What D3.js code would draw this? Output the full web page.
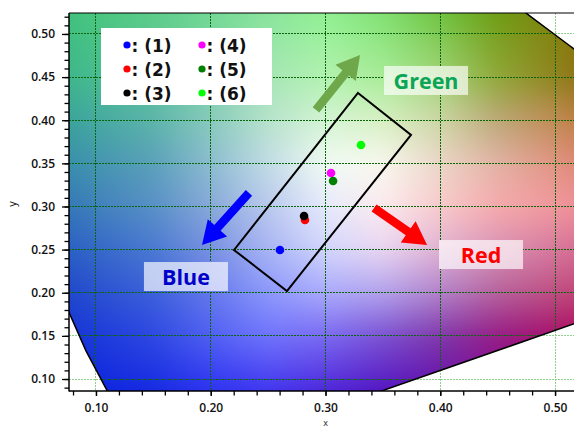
<!DOCTYPE html>
<html>
<head>
<meta charset="utf-8">
<script src="https://cdn.jsdelivr.net/npm/d3@7"></script>
<style>
  html, body { margin: 0; padding: 0; background: #fff; }
  svg { display: block; }
</style>
</head>
<body>
<div id="chart"></div>
<script>
// ---- CIE 1931 2° spectral locus, 380–700 nm ----
const locusX = [0.1741,0.1740,0.1738,0.1736,0.1733,0.1730,0.1726,0.1721,0.1714,0.1703,0.1689,0.1669,0.1644,0.1611,0.1566,0.1510,0.1440,0.1355,0.1241,0.1096,0.0913,0.0687,0.0454,0.0235,0.0082,0.0039,0.0139,0.0389,0.0743,0.1142,0.1547,0.1929,0.2296,0.2658,0.3016,0.3373,0.3731,0.4087,0.4441,0.4788,0.5125,0.5448,0.5752,0.6029,0.6270,0.6482,0.6658,0.6915,0.7079,0.7190,0.7260,0.7347];
const locusY = [0.0050,0.0050,0.0049,0.0049,0.0048,0.0048,0.0048,0.0048,0.0051,0.0058,0.0069,0.0086,0.0109,0.0138,0.0177,0.0227,0.0297,0.0399,0.0578,0.0868,0.1327,0.2007,0.2950,0.4127,0.5384,0.6548,0.7502,0.8120,0.8338,0.8262,0.8059,0.7816,0.7543,0.7243,0.6923,0.6589,0.6245,0.5896,0.5547,0.5202,0.4866,0.4544,0.4242,0.3965,0.3725,0.3514,0.3340,0.3083,0.2920,0.2809,0.2740,0.2653];

// ---- measured chromaticity points ----
const sampleNames  = ["(1)", "(2)", "(3)", "(4)", "(5)", "(6)"];
const sampleX      = [0.2603, 0.2821, 0.2813, 0.3048, 0.3066, 0.3309];
const sampleY      = [0.2496, 0.2843, 0.2890, 0.3388, 0.3296, 0.3713];
const sampleColors = ["#0000ff", "#ff0000", "#000000", "#ff00ff", "#008000", "#00ff00"];

// ---- tolerance quadrilateral (corners) ----
const boxX = [0.3283, 0.3745, 0.2664, 0.2203];
const boxY = [0.4316, 0.3829, 0.2020, 0.2496];

// ---- direction hints: arrow from (fromX, fromY) to (toX, toY), label at (labelX, labelY) ----
const dirNames   = ["Green", "Blue", "Red"];
const dirFromX   = [0.2917, 0.2333, 0.3423];
const dirFromY   = [0.4119, 0.3157, 0.2983];
const dirToX     = [0.3301, 0.1924, 0.3885];
const dirToY     = [0.4757, 0.2554, 0.2554];
const dirLabelX  = [0.3876, 0.1784, 0.4355];
const dirLabelY  = [0.4461, 0.2188, 0.2443];
const dirArrow   = ["#6fa84a", "#0000ff", "#ff0000"];
const dirText    = ["#0aa655", "#0000c8", "#ff0000"];

// ---- axis ticks ----
const xTicks = [0.10, 0.20, 0.30, 0.40, 0.50];
const yTicks = [0.10, 0.15, 0.20, 0.25, 0.30, 0.35, 0.40, 0.45, 0.50];
const xMinor = d3.range(8, 53, 2).map(v => v / 100);
const yMinor = d3.range(9, 53, 1).map(v => v / 100);

// ---- colour field of the diagram, sampled on a coarse (x, y) lattice ----
const bgX = [0.07, 0.15, 0.20, 0.25, 0.30, 0.35, 0.40, 0.45, 0.53];
const bgY = [0.53, 0.45, 0.40, 0.35, 0.30, 0.25, 0.20, 0.15, 0.08];
const bgRow053 = ["#3ec27a","#5ccd88","#72d893","#88e49a","#8ff090","#7ee070","#6cc23c","#6c9c12","#8a7004"];
const bgRow045 = ["#3cb68a","#5cc49a","#7ed4aa","#a6e6b6","#b2f2b0","#a8ec98","#a0d478","#90a838","#8e6e10"];
const bgRow040 = ["#38a29a","#5cb4aa","#88cabc","#b8e2cc","#d4f4d4","#d8f0c4","#ccd6a4","#bca878","#c27a40"];
const bgRow035 = ["#368eaa","#5aa0ba","#8cbcd0","#c2dce6","#f2fbf4","#f8f8ee","#ecd6c8","#e2b2a4","#e08270"];
const bgRow030 = ["#3276b6","#5890c6","#88a8da","#bac8ee","#e6eafc","#fceaee","#f8cacc","#f6aaac","#ee8e96"];
const bgRow025 = ["#285ec2","#4a78d2","#7890e2","#a8b4f4","#d2d6fc","#ead6f2","#e0b2d2","#d892b4","#d66890"];
const bgRow020 = ["#1e46ca","#3c60da","#6478ec","#8c98fc","#aaaafc","#b2a2ec","#b282ca","#b6629c","#c24272"];
const bgRow015 = ["#1232d6","#2e48e2","#5060f2","#7074fc","#7a6af2","#7c52d2","#8038aa","#961c86","#b0085a"];
const bgRow008 = ["#0a20dc","#1428e2","#2a2ef0","#3c30ee","#4a20d8","#5010c0","#6008a8","#800890","#a00070"];
const bgRows = [bgRow053, bgRow045, bgRow040, bgRow035, bgRow030, bgRow025, bgRow020, bgRow015, bgRow008];

// ---- layout ----
const width = 574, height = 427;
const plot = { left: 69, top: 13, right: 578, bottom: 391 };

const x = d3.scaleLinear().domain([0.0765, 0.5200]).range([plot.left, plot.right]);
const y = d3.scaleLinear().domain([0.0861, 0.5243]).range([plot.bottom, plot.top]);

const svg = d3.select("#chart").append("svg")
  .attr("width", width).attr("height", height)
  .attr("viewBox", `0 0 ${width} ${height}`);

const defs = svg.append("defs");
defs.append("clipPath").attr("id", "plotClip")
  .append("rect")
  .attr("x", plot.left).attr("y", plot.top)
  .attr("width", plot.right - plot.left).attr("height", plot.bottom - plot.top);

const locusPts = locusX.map((v, i) => [v, locusY[i]]);
const locusLine = d3.line().x(d => x(d[0])).y(d => y(d[1])).curve(d3.curveLinearClosed);
defs.append("clipPath").attr("id", "gamutClip")
  .append("path").attr("d", locusLine(locusPts));

// ---- paint the colour field on a canvas ----
const bgParsed = bgRows.map(r => r.map(c => d3.rgb(c)));
function locate(arr, v) {
  for (let i = 0; i < arr.length - 1; i++) {
    const t = (v - arr[i]) / (arr[i + 1] - arr[i]);
    if (t >= 0 && t <= 1) return [i, t];
  }
  const asc = arr[1] > arr[0];
  if (asc ? v < arr[0] : v > arr[0]) return [0, 0];
  return [arr.length - 2, 1];
}
const pad = 28;
const cw = Math.round(plot.right - plot.left) + 2 * pad;
const chh = Math.round(plot.bottom - plot.top) + 2 * pad;
const raw = document.createElement("canvas");
raw.width = cw; raw.height = chh;
const rctx = raw.getContext("2d");
const img = rctx.createImageData(cw, chh);
for (let j = 0; j < chh; j++) {
  const dy = y.invert(plot.top - pad + j + 0.5);
  const [iy, ty] = locate(bgY, dy);
  for (let i = 0; i < cw; i++) {
    const dx = x.invert(plot.left - pad + i + 0.5);
    const [ix, tx] = locate(bgX, dx);
    const c00 = bgParsed[iy][ix], c01 = bgParsed[iy][ix + 1];
    const c10 = bgParsed[iy + 1][ix], c11 = bgParsed[iy + 1][ix + 1];
    const k = (j * cw + i) * 4;
    for (const [ch, o] of [["r", 0], ["g", 1], ["b", 2]]) {
      const top = c00[ch] + (c01[ch] - c00[ch]) * tx;
      const bot = c10[ch] + (c11[ch] - c10[ch]) * tx;
      img.data[k + o] = top + (bot - top) * ty;
    }
    img.data[k + 3] = 255;
  }
}
rctx.putImageData(img, 0, 0);
const smooth = document.createElement("canvas");
smooth.width = cw; smooth.height = chh;
const sctx = smooth.getContext("2d");
sctx.filter = "blur(9px)";
sctx.drawImage(raw, 0, 0);
const bgHref = smooth.toDataURL();

const plotG = svg.append("g").attr("clip-path", "url(#plotClip)");

plotG.append("g").attr("clip-path", "url(#gamutClip)")
  .append("image")
  .attr("href", bgHref)
  .attr("x", plot.left - pad).attr("y", plot.top - pad)
  .attr("width", cw).attr("height", chh)
  .attr("preserveAspectRatio", "none");

// ---- grid: faint everywhere, darker inside the gamut ----
function drawGrid(g, color) {
  g.selectAll("line.gx").data(xTicks).join("line").attr("class", "gx")
    .attr("x1", d => x(d)).attr("x2", d => x(d))
    .attr("y1", plot.top).attr("y2", plot.bottom);
  g.selectAll("line.gy").data(yTicks).join("line").attr("class", "gy")
    .attr("y1", d => y(d)).attr("y2", d => y(d))
    .attr("x1", plot.left).attr("x2", plot.right);
  g.attr("stroke", color).attr("stroke-width", 1).attr("stroke-dasharray", "2,1")
    .attr("shape-rendering", "crispEdges");
}
drawGrid(plotG.append("g"), "#8fd08f");
drawGrid(plotG.append("g").attr("clip-path", "url(#gamutClip)"), "#0b650b");

// ---- spectral locus outline ----
plotG.append("path")
  .attr("d", locusLine(locusPts))
  .attr("fill", "none").attr("stroke", "#000").attr("stroke-width", 1.5);

// ---- legend ----
const legend = svg.append("g");
legend.append("rect")
  .attr("x", 101).attr("y", 28).attr("width", 171).attr("height", 77)
  .attr("fill", "#fff");
sampleNames.forEach((name, i) => {
  const col = Math.floor(i / 3), row = i % 3;
  const cx = 127 + col * 75, cy = 45 + row * 24;
  legend.append("circle").attr("cx", cx).attr("cy", cy).attr("r", 3.6).attr("fill", sampleColors[i]);
  legend.append("text")
    .attr("x", cx + 4.5).attr("y", cy + 7)
    .attr("font-family", "'DejaVu Sans', sans-serif").attr("font-weight", "bold")
    .attr("font-size", 17).attr("fill", "#111")
    .text(": " + name);
});

// ---- direction arrows ----
function arrowPath(x0, y0, x1, y1, shaftW, headW, headL) {
  const dx = x1 - x0, dy = y1 - y0, len = Math.hypot(dx, dy);
  const ux = dx / len, uy = dy / len, nx = -uy, ny = ux;
  const bx = x1 - ux * headL, by = y1 - uy * headL;
  const p = [
    [x0 + nx * shaftW / 2, y0 + ny * shaftW / 2],
    [bx + nx * shaftW / 2, by + ny * shaftW / 2],
    [bx + nx * headW / 2, by + ny * headW / 2],
    [x1, y1],
    [bx - nx * headW / 2, by - ny * headW / 2],
    [bx - nx * shaftW / 2, by - ny * shaftW / 2],
    [x0 - nx * shaftW / 2, y0 - ny * shaftW / 2]
  ];
  return "M" + p.map(q => q.join(",")).join("L") + "Z";
}
dirNames.forEach((name, i) => {
  svg.append("path")
    .attr("d", arrowPath(x(dirFromX[i]), y(dirFromY[i]), x(dirToX[i]), y(dirToY[i]), 8.5, 26, 23))
    .attr("fill", dirArrow[i]);
});

// ---- direction labels on translucent plates ----
const plateW = 84, plateH = 29;
const plateClip = defs.append("clipPath").attr("id", "plateClip");
dirNames.forEach((name, i) => {
  plateClip.append("rect")
    .attr("x", x(dirLabelX[i]) - plateW / 2).attr("y", y(dirLabelY[i]) - plateH / 2)
    .attr("width", plateW).attr("height", plateH);
});
svg.append("g").attr("clip-path", "url(#plateClip)")
  .append("g").attr("clip-path", "url(#gamutClip)")
  .append("image")
  .attr("href", bgHref)
  .attr("x", plot.left - pad).attr("y", plot.top - pad)
  .attr("width", cw).attr("height", chh)
  .attr("preserveAspectRatio", "none");
dirNames.forEach((name, i) => {
  const cx = x(dirLabelX[i]), cy = y(dirLabelY[i]);
  svg.append("rect")
    .attr("x", cx - plateW / 2).attr("y", cy - plateH / 2)
    .attr("width", plateW).attr("height", plateH)
    .attr("fill", "#fff").attr("fill-opacity", 0.68);
  svg.append("text")
    .attr("x", cx).attr("y", cy + 8.5)
    .attr("text-anchor", "middle")
    .attr("font-family", "'Open Sans', sans-serif").attr("font-weight", "bold")
    .attr("font-size", 21.5).attr("fill", dirText[i])
    .text(name);
});

// ---- tolerance quadrilateral ----
svg.append("path")
  .attr("d", d3.line().curve(d3.curveLinearClosed)(boxX.map((v, i) => [x(v), y(boxY[i])])))
  .attr("fill", "none").attr("stroke", "#000").attr("stroke-width", 2);

// ---- measured points ----
svg.append("g").selectAll("circle")
  .data(sampleNames.map((n, i) => ({ x: sampleX[i], y: sampleY[i], c: sampleColors[i] })))
  .join("circle")
  .attr("cx", d => x(d.x)).attr("cy", d => y(d.y))
  .attr("r", 4.3).attr("fill", d => d.c);

// ---- axes ----
const axisFont = "'Open Sans', sans-serif";
const xMinorAxis = svg.append("g").attr("transform", `translate(0,${plot.bottom})`)
  .call(d3.axisBottom(x).tickValues(xMinor).tickSize(4.5).tickFormat(""));
const xAxis = svg.append("g").attr("transform", `translate(0,${plot.bottom})`)
  .call(d3.axisBottom(x).tickValues(xTicks).tickSize(5).tickPadding(7).tickFormat(d3.format(".2f")));
const yMinorAxis = svg.append("g").attr("transform", `translate(${plot.left},0)`)
  .call(d3.axisLeft(y).tickValues(yMinor).tickSize(4.5).tickFormat(""));
const yAxis = svg.append("g").attr("transform", `translate(${plot.left},0)`)
  .call(d3.axisLeft(y).tickValues(yTicks).tickSize(7).tickPadding(7).tickFormat(d3.format(".2f")));
[xMinorAxis, xAxis, yMinorAxis, yAxis].forEach(g => {
  g.select(".domain").remove();
  g.selectAll(".tick line").attr("stroke", "#000").attr("stroke-width", 1.3);
  g.selectAll("text").attr("font-family", axisFont).attr("font-weight", 600)
    .attr("font-size", 12).attr("fill", "#111");
});

// frame lines
svg.append("line").attr("x1", plot.left).attr("x2", plot.left)
  .attr("y1", plot.top).attr("y2", plot.bottom + 0.5).attr("stroke", "#000").attr("stroke-width", 1.5);
svg.append("line").attr("x1", plot.left).attr("x2", plot.right)
  .attr("y1", plot.bottom).attr("y2", plot.bottom).attr("stroke", "#000").attr("stroke-width", 1.5);
svg.append("line").attr("x1", plot.left).attr("x2", plot.right)
  .attr("y1", plot.top).attr("y2", plot.top).attr("stroke", "#000").attr("stroke-width", 1.2);

// axis titles
svg.append("text")
  .attr("transform", `translate(16,${(plot.top + plot.bottom) / 2 + 2}) rotate(-90)`)
  .attr("text-anchor", "middle")
  .attr("font-family", axisFont).attr("font-size", 11).attr("fill", "#222")
  .text("y");
svg.append("text")
  .attr("x", x(0.3)).attr("y", 425.5)
  .attr("text-anchor", "middle")
  .attr("font-family", axisFont).attr("font-size", 9).attr("fill", "#222")
  .text("x");
</script>
</body>
</html>
